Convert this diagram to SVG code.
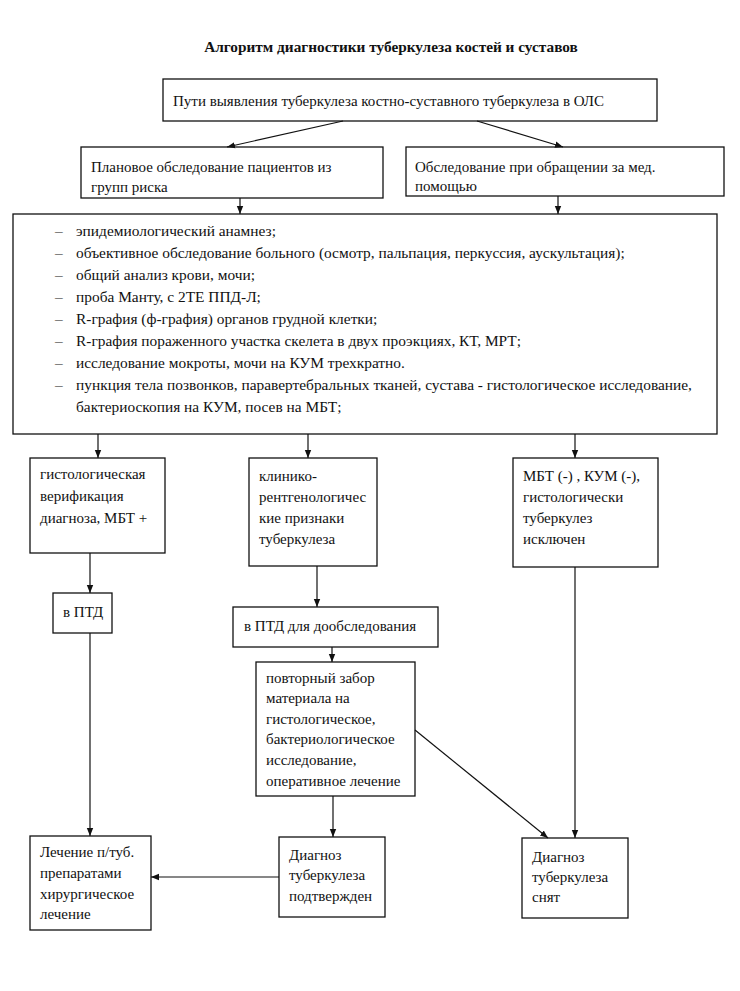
<svg xmlns="http://www.w3.org/2000/svg" width="740" height="991" viewBox="0 0 740 991">
<defs>
<marker id="ah" viewBox="0 0 10 10" refX="10" refY="5" markerWidth="8" markerHeight="8" markerUnits="userSpaceOnUse" orient="auto">
<path d="M0,1 L10,5 L0,9 Z" fill="#111"/>
</marker>
<style>
text{font-family:"Liberation Serif","Times New Roman",serif;font-size:15px;fill:#111}
.t{font-weight:bold;font-size:15.3px}
.b text{font-size:15.4px}
rect{fill:#fff;stroke:#111;stroke-width:1.3}
.c line{stroke:#111;stroke-width:1.2;marker-end:url(#ah)}
</style>
</defs>
<rect x="0" y="0" width="740" height="991" style="stroke:none"/>
<text class="t" x="391" y="52" text-anchor="middle">Алгоритм диагностики туберкулеза костей и суставов</text>

<g id="n1"><rect x="163" y="79" width="494" height="42"/><text x="173" y="106">Пути выявления туберкулеза костно-суставного туберкулеза в ОЛС</text></g>
<g id="n2"><rect x="81" y="147" width="302" height="51"/><text x="91" y="172">Плановое обследование пациентов из</text><text x="91" y="192">групп риска</text></g>
<g id="n3"><rect x="406" y="147" width="318" height="49"/><text x="415" y="172">Обследование при обращении за мед.</text><text x="415" y="191">помощью</text></g>
<g id="n4" class="b"><rect x="13" y="214" width="704" height="220"/>
<text x="55" y="236">–</text><text x="76" y="236">эпидемиологический анамнез;</text>
<text x="55" y="258">–</text><text x="76" y="258">объективное обследование больного (осмотр, пальпация, перкуссия, аускультация);</text>
<text x="55" y="280">–</text><text x="76" y="280">общий анализ крови, мочи;</text>
<text x="55" y="302">–</text><text x="76" y="302">проба Манту, с 2ТЕ ППД-Л;</text>
<text x="55" y="324">–</text><text x="76" y="324">R-графия (ф-графия) органов грудной клетки;</text>
<text x="55" y="346">–</text><text x="76" y="346">R-графия пораженного участка скелета в двух проэкциях, КТ, МРТ;</text>
<text x="55" y="368">–</text><text x="76" y="368">исследование мокроты, мочи на КУМ трехкратно.</text>
<text x="55" y="390">–</text><text x="76" y="390">пункция тела позвонков, паравертебральных тканей, сустава - гистологическое исследование,</text>
<text x="76" y="412">бактериоскопия на КУМ, посев на МБТ;</text>
</g>
<g id="n5"><rect x="30" y="458" width="135" height="95"/><text x="40" y="479">гистологическая</text><text x="40" y="501">верификация</text><text x="40" y="523">диагноза, МБТ +</text></g>
<g id="n6"><rect x="249" y="458" width="128" height="108"/><text x="259" y="481">клинико-</text><text x="259" y="502">рентгенологичес</text><text x="259" y="523">кие признаки</text><text x="259" y="544">туберкулеза</text></g>
<g id="n7"><rect x="513" y="458" width="145" height="109"/><text x="523" y="481">МБТ (-) , КУМ (-),</text><text x="523" y="502">гистологически</text><text x="523" y="523">туберкулез</text><text x="523" y="544">исключен</text></g>
<g id="n8"><rect x="53" y="593" width="59" height="40"/><text x="63" y="617">в ПТД</text></g>
<g id="n9"><rect x="233" y="607" width="205" height="40"/><text x="244" y="631">в ПТД для дообследования</text></g>
<g id="n10"><rect x="256" y="662" width="159" height="134"/><text x="266" y="683">повторный забор</text><text x="266" y="703">материала на</text><text x="266" y="724">гистологическое,</text><text x="266" y="744">бактериологическое</text><text x="266" y="765">исследование,</text><text x="266" y="786">оперативное лечение</text></g>
<g id="n11"><rect x="30" y="836" width="121" height="94"/><text x="40" y="857">Лечение п/туб.</text><text x="40" y="878">препаратами</text><text x="40" y="899">хирургическое</text><text x="40" y="919">лечение</text></g>
<g id="n12"><rect x="279" y="837" width="106" height="80"/><text x="289" y="860">Диагноз</text><text x="289" y="880">туберкулеза</text><text x="289" y="901">подтвержден</text></g>
<g id="n13"><rect x="522" y="838" width="106" height="80"/><text x="532" y="862">Диагноз</text><text x="532" y="882">туберкулеза</text><text x="532" y="902">снят</text></g>

<g class="c" id="connectors">
<line x1="343" y1="121" x2="227" y2="147"/>
<line x1="477" y1="121" x2="563" y2="147"/>
<line x1="240" y1="198" x2="240" y2="214"/>
<line x1="558" y1="196" x2="558" y2="214"/>
<line x1="98" y1="434" x2="98" y2="458"/>
<line x1="308" y1="434" x2="308" y2="458"/>
<line x1="575" y1="434" x2="575" y2="458"/>
<line x1="90" y1="553" x2="90" y2="593"/>
<line x1="317" y1="566" x2="317" y2="607"/>
<line x1="332" y1="647" x2="332" y2="662"/>
<line x1="90" y1="633" x2="90" y2="836"/>
<line x1="333" y1="796" x2="333" y2="837"/>
<line x1="415" y1="730" x2="548" y2="838"/>
<line x1="575" y1="567" x2="575" y2="838"/>
<line x1="279" y1="877" x2="151" y2="877"/>
</g>
</svg>
